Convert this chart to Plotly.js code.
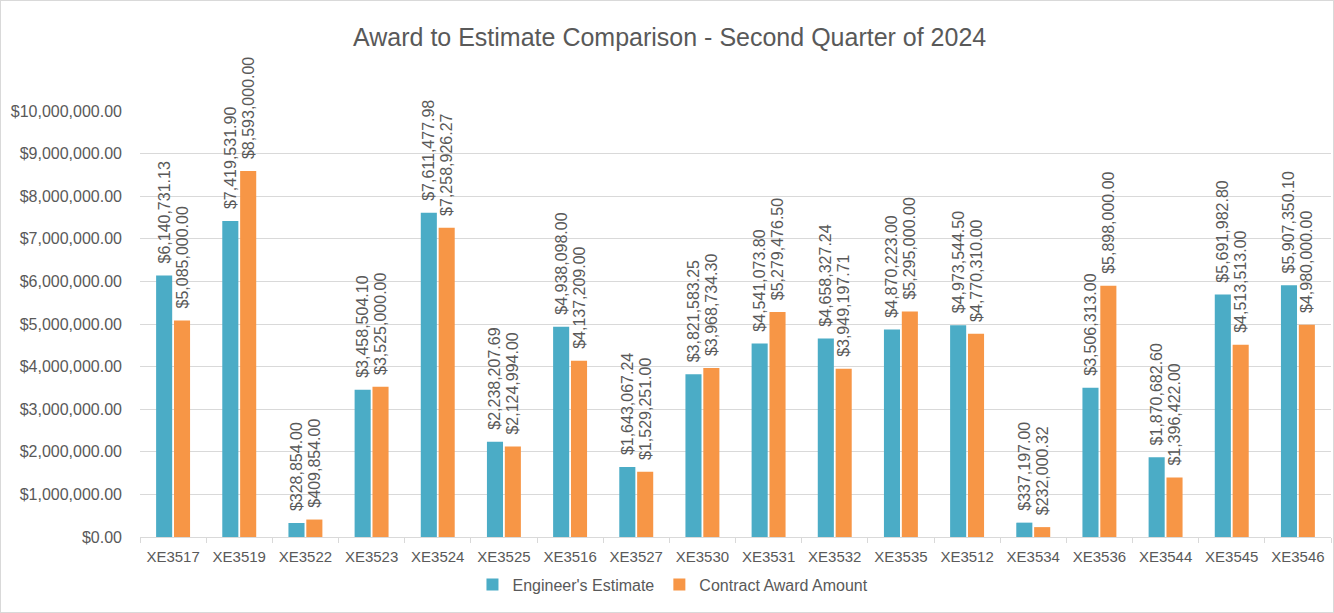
<!DOCTYPE html>
<html><head><meta charset="utf-8">
<script src="https://cdn.plot.ly/plotly-3.0.1.min.js"></script>
<style>html,body{margin:0;padding:0;background:#fff;}#wrap{width:1334px;height:613px;box-sizing:border-box;border:1px solid #d9d9d9;}</style>
</head><body><div id="wrap"><div id="chart" style="width:1332px;height:611px;"></div></div>
<script>
const projects = ["XE3517","XE3519","XE3522","XE3523","XE3524","XE3525","XE3516","XE3527","XE3530","XE3531","XE3532","XE3535","XE3512","XE3534","XE3536","XE3544","XE3545","XE3546"];
const engineerEstimate = [6140731.13,7419531.90,328854.00,3458504.10,7611477.98,2238207.69,4938098.00,1643067.24,3821583.25,4541073.80,4658327.24,4870223.00,4973544.50,337197.00,3506313.00,1870682.60,5691982.80,5907350.10];
const contractAward = [5085000.00,8593000.00,409854.00,3525000.00,7258926.27,2124994.00,4137209.00,1529251.00,3968734.30,5279476.50,3949197.71,5295000.00,4770310.00,232000.32,5898000.00,1396422.00,4513513.00,4980000.00];

const FONT = "Liberation Sans, Arial, sans-serif";
const txt = "#595959";
const common = {type:"bar", x:projects, textposition:"outside", textangle:-90, constraintext:"none", cliponaxis:false,
  texttemplate:"\u00a0\u00a0$%{y:,.2f}", textfont:{family:FONT,size:16,color:txt}, hoverinfo:"x+y"};
const data = [
  Object.assign({}, common, {name:"Engineer's Estimate", y:engineerEstimate, marker:{color:"#4BACC6"}}),
  Object.assign({}, common, {name:"Contract Award Amount", y:contractAward, marker:{color:"#F79646"}})
];
const layout = {
  width:1332, height:611,
  margin:{l:139,r:2,t:110,b:75},
  paper_bgcolor:"#fff", plot_bgcolor:"#fff",
  font:{family:FONT,color:txt,size:15},
  title:{text:"Award to Estimate Comparison - Second Quarter of 2024", font:{family:FONT,size:25,color:txt}, x:0.502, xanchor:"center", y:0.941, yanchor:"middle"},
  barmode:"group", bargap:0.46, bargroupgap:0.1,
  xaxis:{type:"category", showline:true, linecolor:"#d9d9d9", linewidth:1, ticks:"outside", tickson:"boundaries", ticklen:5, tickcolor:"#d9d9d9",
    tickfont:{family:FONT,size:15,color:txt}, showgrid:false, zeroline:false, ticklabelstandoff:6},
  yaxis:{range:[0,10000000], dtick:1000000, tickprefix:"$", tickformat:",.2f", showgrid:true, gridcolor:"#d9d9d9", gridwidth:1,
    zeroline:true, zerolinecolor:"#d9d9d9", tickfont:{family:FONT,size:16,color:txt}, ticks:"", showline:false, ticklabelstandoff:17},
  showlegend:true,
  legend:{orientation:"h", x:0.4475, xanchor:"center", y:-0.112, yanchor:"middle", font:{family:FONT,size:16,color:txt}, itemwidth:30, traceorder:"normal"},
};
Plotly.newPlot("chart", data, layout, {displayModeBar:false, staticPlot:true});
</script></body></html>
